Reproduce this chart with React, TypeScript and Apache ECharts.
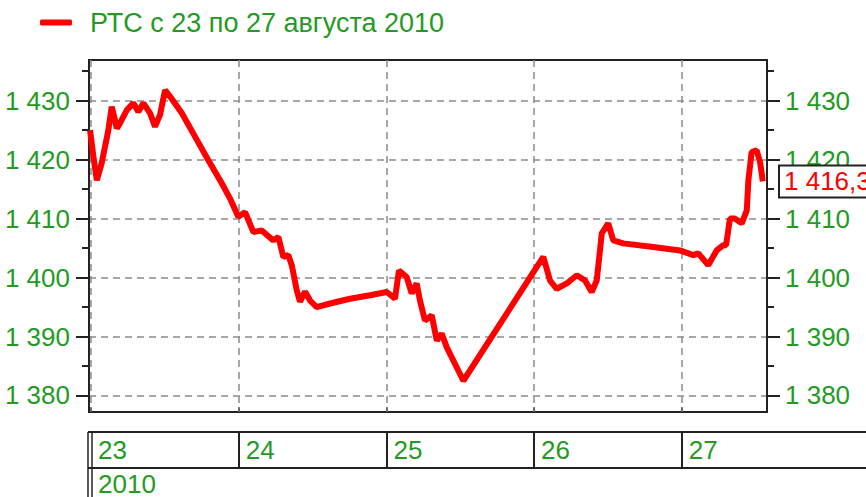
import { useEffect, useRef } from 'react';
import * as echarts from 'echarts';

const seriesName = 'РТС с 23 по 27 августа 2010';

// time in day units (23 = start of 23 Aug trading)
const dayPos = [
  22.993, 23.016, 23.039, 23.072, 23.117, 23.140, 23.162, 23.174, 23.196, 23.242,
  23.286, 23.320, 23.354, 23.399, 23.433, 23.467, 23.501, 23.535, 23.614, 23.704,
  23.794, 23.885, 23.941, 23.997, 24.043, 24.099, 24.156, 24.234, 24.268,
  24.302, 24.336, 24.359, 24.393, 24.415, 24.449, 24.483, 24.528, 24.618, 24.754,
  24.889, 25.002, 25.058, 25.085, 25.137, 25.171, 25.205, 25.227, 25.261, 25.307,
  25.341, 25.374, 25.408, 25.521, 26.062, 26.108, 26.153, 26.221, 26.289, 26.345,
  26.390, 26.424, 26.446, 26.458, 26.502, 26.536, 26.604, 26.807, 26.988, 27.078,
  27.112, 27.179, 27.236, 27.281, 27.300, 27.326, 27.360, 27.406, 27.440, 27.451,
  27.473, 27.507, 27.530, 27.541, 27.548,
];
const values = [
  1425.0, 1420.5, 1416.5, 1419.4, 1425.0, 1429.0, 1426.7, 1425.3, 1426.2, 1428.4,
  1429.6, 1428.1, 1429.6, 1427.9, 1425.6, 1427.6, 1431.8, 1430.7, 1427.9, 1423.9,
  1419.9, 1416.0, 1413.4, 1410.3, 1411.1, 1407.7, 1408.0, 1406.3, 1406.9,
  1403.5, 1403.8, 1402.1, 1397.8, 1395.9, 1397.6, 1396.1, 1395.0, 1395.6, 1396.4,
  1397.0, 1397.55, 1396.4, 1401.2, 1400.1, 1397.3, 1399.0, 1396.1, 1392.7, 1393.6,
  1389.3, 1390.5, 1388.2, 1382.5, 1403.5, 1399.5, 1398.1, 1399.0, 1400.4, 1399.5,
  1397.55, 1399.5, 1404.6, 1407.5, 1409.2, 1406.3, 1405.8, 1405.2, 1404.6, 1403.8,
  1404.1, 1402.1, 1404.6, 1405.5, 1405.5, 1410.0, 1410.0, 1409.2, 1411.4, 1416.5,
  1421.3, 1421.6, 1419.6, 1417.7, 1416.3,
];

const dayTicks = [23, 24, 25, 26, 27];
const dayLabels = ['23', '24', '25', '26', '27'];
const daySeparators = [24, 25, 26, 27];
const yearTicks = [23];
const yearLabels = ['2010'];
const yMajor = [1380, 1390, 1400, 1410, 1420, 1430];
const yMinor = [1385, 1395, 1405, 1415, 1425, 1435];

const X_MIN = 22.986;
const X_MAX = 27.577;
const Y_MIN = 1377.2;
const Y_MAX = 1436.9;

const GREEN = '#239b23';
const RED = '#ff0000';
const DARK = '#222222';
const SANS = "'Liberation Sans', Arial, sans-serif";

function fmtThousands(v: number, digits = 0): string {
  const fixed = v.toFixed(digits);
  const [intPart, frac] = fixed.split('.');
  const withSpace = intPart.replace(/\B(?=(\d{3})+(?!\d))/g, ' ');
  return frac ? withSpace + ',' + frac : withSpace;
}

export default function App() {
  const ref = useRef<HTMLDivElement>(null);

  useEffect(() => {
    if (!ref.current) return;
    const chart = echarts.init(ref.current, null, { renderer: 'svg' });
    const lastValue = values[values.length - 1];
    const dashed = { type: [7, 5] as any, color: '#8c8c8c', width: 1.5 };
    const tickLabel = { color: GREEN, fontSize: 26, fontFamily: SANS };

    chart.setOption({
      animation: false,
      backgroundColor: '#ffffff',
      legend: {
        left: 40,
        top: 9,
        padding: 0,
        icon: 'roundRect',
        itemWidth: 32,
        itemHeight: 6,
        data: [seriesName],
        textStyle: { color: GREEN, fontSize: 27, fontFamily: SANS, padding: [0, 0, 0, 13] },
      },
      grid: [
        { left: 89, right: 99, top: 60, height: 352, show: true, borderColor: DARK, borderWidth: 2, backgroundColor: '#fff' },
        { left: 89, right: 99, top: 432, height: 36, show: false },
        { left: 89, right: 99, top: 468, height: 29, show: false },
      ],
      xAxis: [
        {
          type: 'value', gridIndex: 0, min: X_MIN, max: X_MAX,
          axisLine: { show: false },
          axisTick: { show: true, inside: true, length: 5, customValues: dayTicks, lineStyle: { color: '#555', width: 1.5 } },
          axisLabel: { show: false },
          splitLine: { show: true, lineStyle: dashed },
        },
        {
          type: 'value', gridIndex: 1, min: X_MIN, max: X_MAX, position: 'top',
          axisLine: { show: false },
          axisTick: { show: false, customValues: daySeparators },
          axisLabel: {
            ...tickLabel, customValues: dayTicks, inside: true, margin: 5, align: 'left', padding: [0, 0, 0, 7],
            formatter: (v: number) => dayLabels[dayTicks.indexOf(Math.round(v))] ?? '',
          },
          splitLine: { show: true, lineStyle: { color: DARK, width: 2, type: 'solid' } },
        },
        {
          type: 'value', gridIndex: 2, min: X_MIN, max: X_MAX, position: 'top',
          axisLine: { show: false },
          axisTick: { show: false, customValues: yearTicks },
          axisLabel: {
            ...tickLabel, customValues: yearTicks, inside: true, margin: 6, lineHeight: 20, align: 'left', padding: [0, 0, 0, 7],
            formatter: (v: number) => yearLabels[yearTicks.indexOf(Math.round(v))] ?? '',
          },
          splitLine: { show: false },
        },
      ],
      yAxis: [
        {
          type: 'value', gridIndex: 0, min: Y_MIN, max: Y_MAX, position: 'left',
          axisLine: { show: true, lineStyle: { color: DARK, width: 2 } },
          axisTick: { show: true, length: 13, customValues: yMajor, lineStyle: { color: DARK, width: 2 } },
          axisLabel: { ...tickLabel, customValues: yMajor, margin: 19, formatter: (v: number) => fmtThousands(v) },
          splitLine: { show: true, lineStyle: dashed },
        },
        {
          type: 'value', gridIndex: 0, min: Y_MIN, max: Y_MAX, position: 'left',
          axisLine: { show: false },
          axisTick: { show: true, length: 7, customValues: yMinor, lineStyle: { color: DARK, width: 2 } },
          axisLabel: { show: false },
          splitLine: { show: false },
        },
        {
          type: 'value', gridIndex: 0, min: Y_MIN, max: Y_MAX, position: 'right',
          axisLine: { show: true, lineStyle: { color: DARK, width: 2 } },
          axisTick: { show: true, length: 13, customValues: yMajor, lineStyle: { color: DARK, width: 2 } },
          axisLabel: { ...tickLabel, customValues: yMajor, margin: 18, formatter: (v: number) => fmtThousands(v) },
          splitLine: { show: false },
        },
        {
          type: 'value', gridIndex: 0, min: Y_MIN, max: Y_MAX, position: 'right',
          axisLine: { show: false },
          axisTick: { show: true, length: 7, customValues: yMinor, lineStyle: { color: DARK, width: 2 } },
          axisLabel: { show: false },
          splitLine: { show: false },
        },
        { type: 'value', gridIndex: 1, show: false },
        { type: 'value', gridIndex: 2, show: false },
      ],
      graphic: [
        { type: 'line', shape: { x1: 88, y1: 432, x2: 866, y2: 432 }, style: { stroke: DARK, lineWidth: 2 } },
        { type: 'line', shape: { x1: 88, y1: 468, x2: 866, y2: 468 }, style: { stroke: DARK, lineWidth: 2 } },
        { type: 'line', shape: { x1: 88, y1: 432, x2: 88, y2: 497 }, style: { stroke: DARK, lineWidth: 1.5 } },
        { type: 'line', shape: { x1: 92, y1: 432, x2: 92, y2: 497 }, style: { stroke: DARK, lineWidth: 1.5 } },
      ],
      series: [
        {
          name: seriesName,
          type: 'line',
          xAxisIndex: 0,
          yAxisIndex: 0,
          data: dayPos.map((x, i) => [x, values[i]]),
          symbol: 'none',
          showSymbol: false,
          lineStyle: { color: RED, width: 6 },
          itemStyle: { color: RED },
          emphasis: { disabled: true },
          markLine: {
            silent: true,
            symbol: 'none',
            z: 10,
            lineStyle: { color: 'rgba(0,0,0,0)', width: 1, type: 'solid' },
            label: {
              show: true,
              position: 'end',
              distance: 13,
              formatter: () => fmtThousands(lastValue, 1),
              color: RED,
              fontSize: 26,
              fontFamily: SANS,
              backgroundColor: '#ffffff',
              borderColor: DARK,
              borderWidth: 2,
              padding: [3, 8, 1, 4],
            },
            data: [{ yAxis: lastValue }],
          },
        },
      ],
    });
    return () => chart.dispose();
  }, []);

  return (
    <div
      ref={ref}
      style={{ position: 'fixed', left: 0, top: 0, width: 866, height: 497, background: '#fff' }}
    />
  );
}
